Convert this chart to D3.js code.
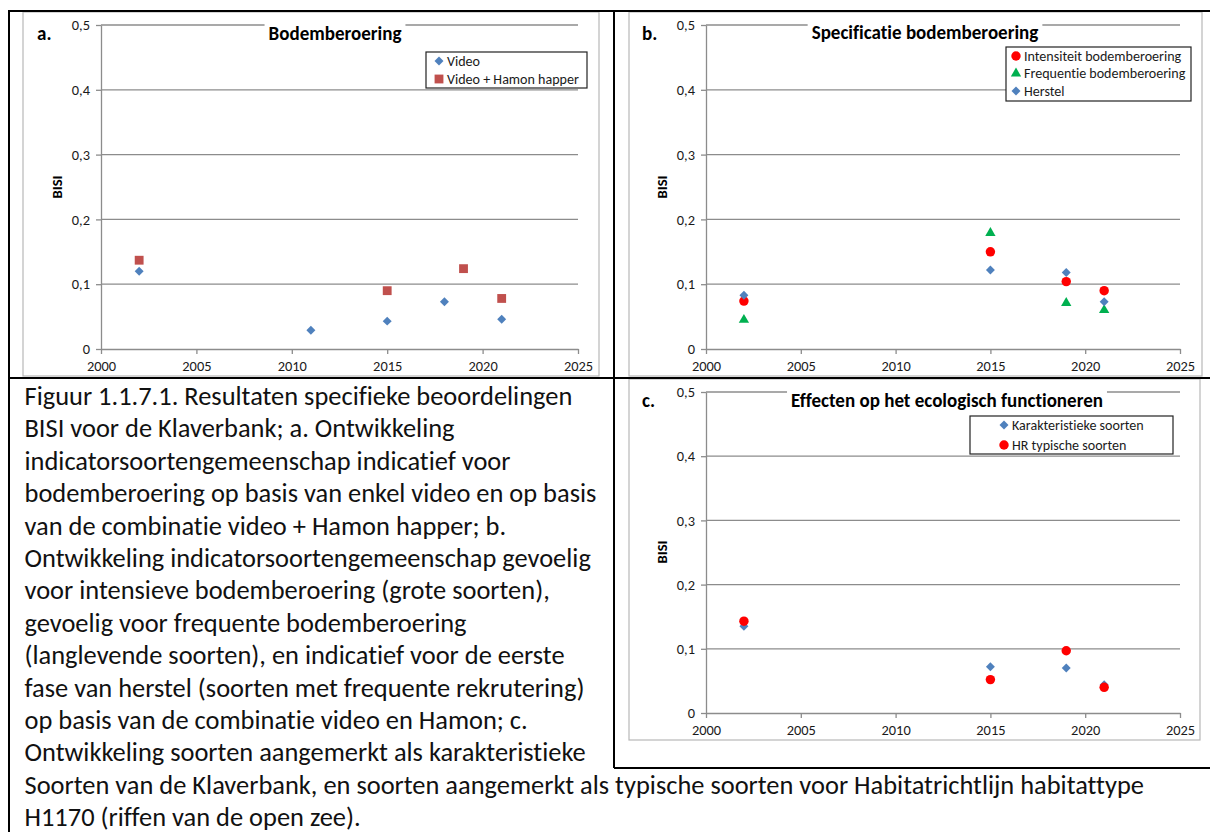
<!DOCTYPE html>
<html><head><meta charset="utf-8">
<script src="https://cdn.jsdelivr.net/npm/d3@7"></script>
<style>html,body{margin:0;padding:0;background:#fff;} svg{display:block;} text{font-variant-ligatures:none;font-feature-settings:"liga" 0,"clig" 0;}</style>
</head><body>
<svg id="chart" width="1210" height="832"></svg>
<script>
// ---------------- DATA ----------------
const xTickValues = [2000, 2005, 2010, 2015, 2020, 2025];
const yTickValues = [0, 0.1, 0.2, 0.3, 0.4, 0.5];
const yTickLabels = ["0", "0,1", "0,2", "0,3", "0,4", "0,5"];

// a. Bodemberoering
const aVideoYears  = [2002, 2011, 2015, 2018, 2021];
const aVideoValues = [0.120, 0.029, 0.043, 0.073, 0.046];
const aHamonYears  = [2002, 2015, 2019, 2021];
const aHamonValues = [0.137, 0.090, 0.124, 0.078];

// b. Specificatie bodemberoering
const bYears        = [2002, 2015, 2019, 2021];
const bIntensiteit  = [0.074, 0.150, 0.104, 0.090];
const bFrequentie   = [0.045, 0.179, 0.071, 0.060];
const bHerstel      = [0.083, 0.122, 0.118, 0.073];

// c. Effecten op het ecologisch functioneren
const cYears           = [2002, 2015, 2019, 2021];
const cKarakteristiek  = [0.135, 0.072, 0.070, 0.044];
const cHRtypisch       = [0.143, 0.052, 0.097, 0.040];

const captionLines = [
  "Figuur 1.1.7.1. Resultaten specifieke beoordelingen",
  "BISI voor de Klaverbank; a. Ontwikkeling",
  "indicatorsoortengemeenschap indicatief voor",
  "bodemberoering op basis van enkel video en op basis",
  "van de combinatie video + Hamon happer; b.",
  "Ontwikkeling indicatorsoortengemeenschap gevoelig",
  "voor intensieve bodemberoering (grote soorten),",
  "gevoelig voor frequente bodemberoering",
  "(langlevende soorten), en indicatief voor de eerste",
  "fase van herstel (soorten met frequente rekrutering)",
  "op basis van de combinatie video en Hamon; c.",
  "Ontwikkeling soorten aangemerkt als karakteristieke",
  "Soorten van de Klaverbank, en soorten aangemerkt als typische soorten voor Habitatrichtlijn habitattype",
  "H1170 (riffen van de open zee)."
];

// ---------------- STYLE ----------------
const FONT = "Carlito, Lato, 'Open Sans', sans-serif";
const BLUE = "#4F81BD", DRED = "#C0504D", RED = "#FF0000", GREEN = "#00B050";
const ctx = document.createElement("canvas").getContext("2d");
function fit(text, target, weight) {
  ctx.font = `${weight || "normal"} 100px ${FONT}`;
  return 100 * target / ctx.measureText(text).width;
}
const fsCaption = fit(captionLines[0], 548);
const fsTitle = fit("Bodemberoering", 133, "bold");
const fsTick = (fit("2025", 28) + fit("0,5", 19)) / 2;
const fsBisi = fit("BISI", 23, "bold");
const fsLegend = fit("Video + Hamon happer", 132);

const svg = d3.select("#chart");
svg.append("rect").attr("width", 1210).attr("height", 832).attr("fill", "#fff");

function symbolPath(kind, size) {
  if (kind === "diamond") return d3.symbol(d3.symbolSquare, size)();
  if (kind === "square") return d3.symbol(d3.symbolSquare, size)();
  if (kind === "circle") return d3.symbol(d3.symbolCircle, size)();
  return d3.symbol(d3.symbolTriangle, size)();
}
const symbolSize = {diamond: 40, square: 78, circle: 70, triangle: 46};
function drawMarker(g, kind, color, cx, cy) {
  const rot = kind === "diamond" ? " rotate(45)" : "";
  g.append("path").attr("d", symbolPath(kind, symbolSize[kind]))
    .attr("transform", `translate(${cx},${cy})${rot}`)
    .attr("fill", color);
}

function drawPanel(p) {
  const g = svg.append("g");
  g.append("rect").attr("x", p.frame[0]).attr("y", p.frame[1])
    .attr("width", p.frame[2]).attr("height", p.frame[3])
    .attr("fill", "#fff").attr("stroke", "#b8b8b8").attr("stroke-width", 1.2);
  const x = d3.scaleLinear().domain([2000, 2025]).range([p.x0, p.x1]);
  const y = d3.scaleLinear().domain([0, 0.5]).range([p.y0, p.y1]);

  // gridlines
  g.selectAll("line.grid").data(yTickValues.filter(v => v > 0)).join("line")
    .attr("x1", p.x0).attr("x2", p.x1)
    .attr("y1", d => y(d)).attr("y2", d => y(d))
    .attr("stroke", "#8c8c8c").attr("stroke-width", 1.3);

  // axes
  const ya = g.append("g").attr("transform", `translate(${p.x0},0)`)
    .call(d3.axisLeft(y).tickValues(yTickValues)
      .tickFormat((d, i) => yTickLabels[i]).tickSize(5).tickPadding(6).tickSizeOuter(0));
  const xa = g.append("g").attr("transform", `translate(0,${p.y0})`)
    .call(d3.axisBottom(x).tickValues(xTickValues)
      .tickFormat(d => String(d)).tickSize(5).tickPadding(7).tickSizeOuter(0));
  [ya, xa].forEach(a => {
    a.selectAll("path,line").attr("stroke", "#8c8c8c").attr("stroke-width", 1.3);
    a.selectAll("text").attr("font-family", FONT).attr("font-size", fsTick).attr("fill", "#1a1a1a");
  });

  // y label
  g.append("text").attr("transform", `translate(${p.yLabel[0]},${p.yLabel[1]}) rotate(-90)`)
    .attr("text-anchor", "middle").attr("dominant-baseline", "central")
    .attr("font-family", FONT).attr("font-weight", "bold").attr("font-size", fsBisi)
    .text("BISI");

  // series
  p.series.forEach(s => {
    s.years.forEach((yr, i) => drawMarker(g, s.kind, s.color, x(yr), y(s.values[i])));
  });

  // title with white background
  const t = g.append("text").attr("x", p.title[1]).attr("y", p.title[2])
    .attr("text-anchor", "middle").attr("dominant-baseline", "central")
    .attr("font-family", FONT).attr("font-weight", "bold").attr("font-size", fsTitle)
    .text(p.title[0]);
  const bb = t.node().getBBox();
  g.insert("rect", () => t.node()).attr("x", bb.x - 4).attr("y", bb.y - 2)
    .attr("width", bb.width + 8).attr("height", bb.height + 2).attr("fill", "#fff");

  // panel letter
  g.append("text").attr("x", p.letter[1]).attr("y", p.letter[2])
    .attr("dominant-baseline", "central")
    .attr("font-family", FONT).attr("font-weight", "bold").attr("font-size", fsTitle)
    .text(p.letter[0]);

  // legend
  const L = p.legend;
  g.append("rect").attr("x", L.box[0]).attr("y", L.box[1]).attr("width", L.box[2]).attr("height", L.box[3])
    .attr("fill", "#fff").attr("stroke", "#222").attr("stroke-width", 1.2);
  p.series.forEach((s, i) => {
    drawMarker(g, s.kind, s.color, L.mx, L.ys[i]);
    g.append("text").attr("x", L.tx).attr("y", L.ys[i]).attr("dominant-baseline", "central")
      .attr("font-family", FONT).attr("font-size", fsLegend).attr("fill", "#1a1a1a").text(s.name);
  });
}

drawPanel({
  frame: [23, 12, 576, 364], x0: 101, x1: 578, y0: 349, y1: 25,
  yLabel: [57, 187], title: ["Bodemberoering", 335, 33], letter: ["a.", 37, 33],
  legend: {box: [426, 52, 161, 36], mx: 439, tx: 447, ys: [61, 79]},
  series: [
    {name: "Video", kind: "diamond", color: BLUE, years: aVideoYears, values: aVideoValues},
    {name: "Video + Hamon happer", kind: "square", color: DRED, years: aHamonYears, values: aHamonValues}
  ]
});

drawPanel({
  frame: [629, 12, 573, 364], x0: 706, x1: 1180, y0: 349, y1: 25,
  yLabel: [662, 187], title: ["Specificatie bodemberoering", 925, 32], letter: ["b.", 642, 33],
  legend: {box: [1006, 47, 185, 54], mx: 1016, tx: 1024, ys: [56, 73.5, 91]},
  series: [
    {name: "Intensiteit bodemberoering", kind: "circle", color: RED, years: bYears, values: bIntensiteit},
    {name: "Frequentie bodemberoering", kind: "triangle", color: GREEN, years: bYears, values: bFrequentie},
    {name: "Herstel", kind: "diamond", color: BLUE, years: bYears, values: bHerstel}
  ]
});

drawPanel({
  frame: [629, 379, 571, 361], x0: 706, x1: 1180, y0: 713, y1: 392,
  yLabel: [662, 552], title: ["Effecten op het ecologisch functioneren", 947, 400], letter: ["c.", 642, 400],
  legend: {box: [970, 416, 203, 38], mx: 1004, tx: 1012, ys: [425, 445]},
  series: [
    {name: "Karakteristieke soorten", kind: "diamond", color: BLUE, years: cYears, values: cKarakteristiek},
    {name: "HR typische soorten", kind: "circle", color: RED, years: cYears, values: cHRtypisch}
  ]
});

// table borders
const borders = [
  [8, 11, 1210, 11], [9, 11, 9, 832], [614, 11, 614, 768],
  [9, 378, 1210, 378], [614, 768, 1210, 768]
];
svg.selectAll("line.border").data(borders).join("line")
  .attr("x1", d => d[0]).attr("y1", d => d[1]).attr("x2", d => d[2]).attr("y2", d => d[3])
  .attr("stroke", "#000").attr("stroke-width", 2);

// caption
svg.append("g").selectAll("text").data(captionLines).join("text")
  .attr("x", 24.5).attr("y", (d, i) => 405 + i * 32.4)
  .attr("font-family", FONT).attr("font-size", fsCaption).attr("fill", "#111")
  .text(d => d);
</script>
</body></html>
